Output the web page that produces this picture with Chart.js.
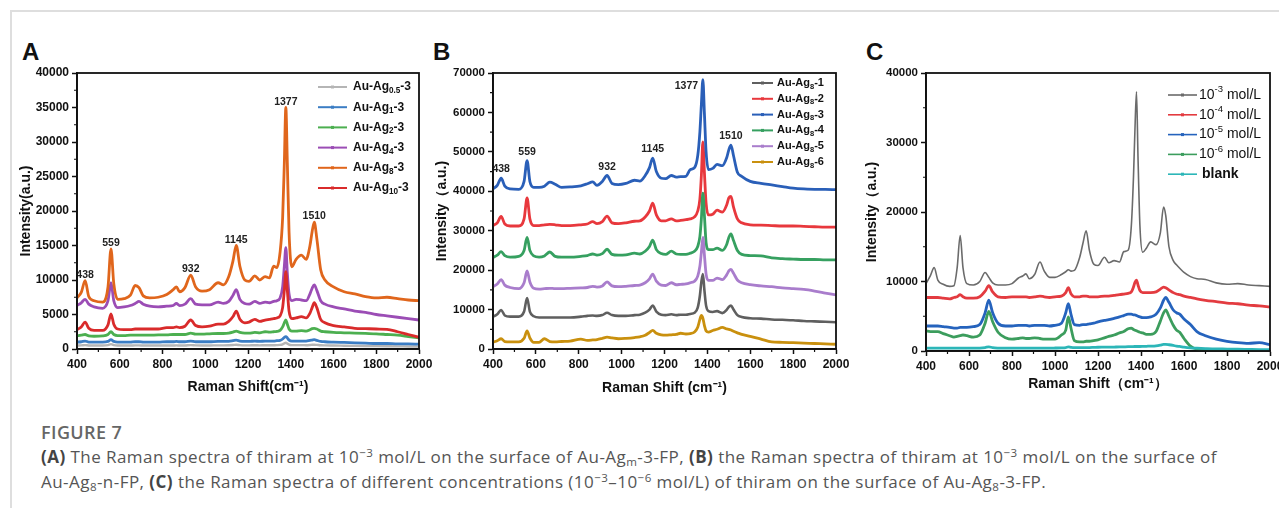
<!DOCTYPE html>
<html>
<head>
<meta charset="utf-8">
<script src="https://cdn.jsdelivr.net/npm/chart.js@4.4.1/dist/chart.umd.min.js"></script>
<style>
  html, body { margin: 0; padding: 0; background: #fff; width: 1279px; height: 508px; overflow: hidden; position: relative; }
  #frame { position: absolute; left: 10px; top: 10px; right: -5px; bottom: -5px; border-left: 2px solid #dedede; border-top: 2px solid #dedede; }
  canvas { position: absolute; top: 30px; }
  .tag { position: absolute; top: 40px; font: bold 24px/1 'Liberation Sans', Arial, sans-serif; color: #111; }
  #cap { position: absolute; left: 41px; top: 420px; font-family: 'Open Sans', sans-serif; font-size: 17px; letter-spacing: 0.45px; color: #555; white-space: nowrap; }
  #cap .fig { line-height: 24px; font-size: 18px; font-weight: 600; color: #666; letter-spacing: 0.4px; }
  #cap .txt { line-height: 25px; }
  #cap b { color: #444; }
  #cap sup, #cap sub { font-size: 0.68em; line-height: 0; position: relative; vertical-align: 0; }
  #cap sup { top: -0.55em; }
  #cap sub { top: 0.3em; }
</style>
</head>
<body>
<div id="frame"></div>
<div class="tag" style="left:22px">A</div>
<div class="tag" style="left:433px">B</div>
<div class="tag" style="left:866px">C</div>
<canvas id="chartA" width="440" height="375" style="left:0px"></canvas>
<canvas id="chartB" width="426" height="375" style="left:430px"></canvas>
<canvas id="chartC" width="435" height="375" style="left:860px"></canvas>
<div id="cap">
  <div class="fig">FIGURE 7</div>
  <div class="txt"><b>(A)</b> The Raman spectra of thiram at 10<sup>−3</sup> mol/L on the surface of Au-Ag<sub>m</sub>-3-FP, <b>(B)</b> the Raman spectra of thiram at 10<sup>−3</sup> mol/L on the surface of<br>Au-Ag<sub>8</sub>-n-FP, <b>(C)</b> the Raman spectra of different concentrations (10<sup>−3</sup>–10<sup>−6</sup> mol/L) of thiram on the surface of Au-Ag<sub>8</sub>-3-FP.</div>
</div>
<script>
// ---- Panel A: Au-Ag_m-3 substrates ----
const shiftA = [400, 420, 438, 455, 480, 520, 545, 559, 572, 590, 620, 650, 672, 690, 710,
  740, 780, 820, 850, 865, 880, 905, 932, 955, 985, 1020, 1060, 1085, 1110, 1130,
  1145, 1162, 1185, 1205, 1232, 1255, 1280, 1300, 1320, 1335, 1350, 1362, 1370, 1377, 1384,
  1392, 1405, 1425, 1450, 1472, 1490, 1500, 1510, 1522, 1540, 1560, 1600, 1650, 1700, 1750,
  1800, 1850, 1900, 1950, 2000];
const namesA = ['Au-Ag_{0.5}-3', 'Au-Ag_{1}-3', 'Au-Ag_{2}-3', 'Au-Ag_{4}-3', 'Au-Ag_{8}-3', 'Au-Ag_{10}-3'];
const agHalfA = [500, 520, 560, 510, 500, 500, 560, 700, 560, 500, 500, 500, 520, 520, 500,
  500, 500, 510, 510, 520, 510, 510, 560, 520, 510, 510, 530, 530, 540, 570,
  620, 560, 530, 530, 550, 530, 540, 540, 550, 560, 590, 680, 820, 900, 780,
  620, 560, 560, 560, 550, 580, 610, 620, 590, 540, 520, 500, 480, 460, 440,
  420, 400, 380, 370, 350];
const ag1A = [1000, 1050, 1150, 1000, 1000, 1000, 1100, 1350, 1100, 1000, 1000, 1000, 1050, 1050, 1000,
  1000, 1000, 1050, 1050, 1100, 1050, 1050, 1150, 1050, 1050, 1050, 1100, 1100, 1100, 1200,
  1300, 1150, 1100, 1100, 1150, 1100, 1150, 1150, 1150, 1200, 1250, 1450, 1700, 1800, 1600,
  1300, 1150, 1150, 1150, 1150, 1250, 1300, 1350, 1250, 1100, 1050, 1000, 950, 900, 850,
  800, 800, 750, 750, 700];
const ag2A = [1900, 2000, 2100, 1900, 1850, 1900, 2100, 2500, 2100, 1950, 1950, 2000, 2000, 2000, 2000,
  2000, 2050, 2050, 2100, 2100, 2100, 2100, 2300, 2150, 2150, 2200, 2250, 2250, 2300, 2450,
  2600, 2400, 2300, 2300, 2400, 2350, 2500, 2450, 2500, 2550, 2700, 3200, 3800, 4200, 3600,
  2900, 2600, 2600, 2650, 2600, 2800, 2950, 3000, 2900, 2600, 2500, 2400, 2350, 2300, 2250,
  2200, 2100, 2000, 1800, 1600];
const ag4A = [6300, 6700, 7200, 6500, 6100, 5900, 7000, 9600, 7000, 6000, 6100, 6300, 6600, 6900, 6500,
  6200, 6100, 6200, 6300, 6600, 6300, 6500, 7300, 6500, 6400, 6400, 6800, 6600, 6900, 7800,
  8600, 7200, 6600, 6500, 6900, 6600, 6800, 6700, 6900, 7000, 7400, 9000, 12000, 14700, 11000,
  8000, 7000, 7200, 7100, 7000, 8000, 8800, 9300, 8500, 7000, 6500, 6100, 5800, 5500, 5300,
  5000, 4800, 4600, 4400, 4200];
const ag8A = [7400, 8200, 9900, 7600, 7000, 6800, 9000, 14500, 9500, 7200, 7300, 7800, 9200, 8900, 7700,
  7400, 7500, 7900, 8600, 9000, 8300, 8900, 10700, 9000, 8400, 8600, 9600, 9300, 10500, 12800,
  15000, 12000, 10000, 9800, 10600, 10000, 10500, 10300, 12000, 11800, 14000, 19000, 27000, 35000, 27000,
  17000, 11900, 13000, 13600, 13000, 15000, 17000, 18400, 16000, 11500, 10000, 9000, 8300, 8000, 7600,
  7400, 7500, 7300, 7100, 7000];
const ag10A = [2800, 3200, 3900, 3000, 2700, 2700, 3500, 5100, 3600, 2900, 2800, 2800, 2900, 2900, 2900,
  2900, 2900, 3100, 3100, 3200, 3100, 3300, 4200, 3400, 3200, 3300, 3600, 3600, 4000, 4700,
  5500, 4300, 3800, 3900, 4300, 4000, 4200, 4300, 4400, 4500, 4800, 6000, 8500, 11200, 8500,
  5500, 4400, 4500, 4700, 4500, 5200, 6000, 6700, 6000, 4300, 3800, 3400, 3200, 3000, 2950,
  2900, 2850, 2500, 2100, 1700];
const peaksA = [438, 559, 932, 1145, 1377, 1510];

// ---- Panel B: Au-Ag8-n substrates ----
const shiftB = [400, 420, 438, 455, 480, 520, 545, 559, 572, 590, 615, 640, 665, 690, 720,
  760, 810, 840, 865, 885, 910, 932, 955, 985, 1020, 1060, 1085, 1110, 1130, 1145,
  1162, 1185, 1205, 1232, 1255, 1275, 1300, 1320, 1340, 1355, 1365, 1372, 1379, 1386, 1394,
  1405, 1425, 1445, 1470, 1490, 1500, 1510, 1522, 1540, 1560, 1600, 1650, 1700, 1750, 1800,
  1850, 1900, 1950, 2000];
const namesB = ['Au-Ag_{8}-1', 'Au-Ag_{8}-2', 'Au-Ag_{8}-3', 'Au-Ag_{8}-4', 'Au-Ag_{8}-5', 'Au-Ag_{8}-6'];
const n1B = [8200, 8800, 9900, 8500, 8200, 8200, 9500, 12900, 9500, 8300, 8000, 8000, 8000, 8000, 8000,
  8000, 8200, 8400, 8500, 8400, 8600, 9200, 8600, 8400, 8400, 8600, 8700, 9200, 10000, 11000,
  9500, 8700, 8600, 8800, 8600, 8700, 8700, 8900, 9200, 10500, 13500, 17000, 19000, 15000, 11000,
  9600, 9400, 9600, 9100, 9900, 10700, 11000, 10000, 8600, 8100, 7800, 7700, 7500, 7400, 7300,
  7100, 7000, 6900, 6800];
const n2B = [31300, 32000, 33600, 31700, 31200, 31200, 33000, 38300, 33000, 31300, 31300, 31500, 31600, 31500, 31300,
  31300, 31500, 31700, 32300, 31800, 32300, 33700, 32000, 31800, 32000, 32400, 32500, 33500, 35000, 37000,
  34000, 32500, 32500, 33000, 32500, 32600, 32800, 33000, 33500, 35000, 38000, 44000, 52500, 45000, 37000,
  34000, 34200, 35200, 34700, 36500, 38300, 38700, 36000, 33000, 32000, 31500, 31400, 31300, 31200, 31200,
  31100, 31000, 30900, 30900];
const n3B = [40600, 41500, 43300, 41300, 40600, 40500, 42500, 47800, 42500, 41000, 41000, 41300, 42300, 41800, 41000,
  41100, 41400, 41900, 42400, 41500, 42500, 44000, 42000, 41700, 42000, 42800, 42600, 44000, 46000, 48400,
  45000, 43300, 43200, 44000, 43600, 43700, 43800, 45500, 46000, 49000, 55000, 62000, 68300, 60000, 50000,
  45500, 45800, 46800, 46500, 48500, 50500, 51700, 49000, 44800, 43800, 42500, 42000, 41600, 41200, 40800,
  40600, 40500, 40500, 40400];
const n4B = [23200, 23800, 24700, 23700, 23300, 23500, 25000, 28300, 25000, 23600, 23300, 23600, 24600, 23500, 23300,
  23300, 23500, 23700, 24100, 23800, 24200, 25300, 24000, 23800, 23900, 24300, 24100, 24800, 26000, 27600,
  25200, 24200, 24000, 24800, 24100, 24000, 24000, 24300, 24800, 26000, 28500, 33000, 39500, 34000, 27000,
  25200, 25200, 25600, 25000, 26500, 28300, 29200, 27500, 25000, 24000, 23700, 23600, 23100, 22900, 22800,
  22700, 22700, 22600, 22600];
const n5B = [15800, 16500, 17600, 16200, 15600, 15300, 16800, 19800, 17000, 15400, 15200, 15300, 15400, 15300, 15300,
  15400, 15500, 15600, 15900, 15700, 16000, 17000, 16000, 15800, 15900, 16100, 16200, 16800, 17800, 19000,
  17200, 16200, 16100, 16800, 16300, 16400, 16500, 16800, 17200, 18500, 21000, 24500, 28300, 24000, 19000,
  17400, 17400, 18000, 17600, 18800, 19800, 20200, 19200, 17500, 16800, 16300, 16000, 15800, 15500, 15300,
  15100, 14700, 14200, 13700];
const n6B = [1700, 2100, 2600, 1900, 1800, 1800, 2700, 4600, 2800, 1700, 1700, 2600, 1900, 1800, 1900,
  2000, 2500, 2200, 2300, 2400, 2700, 3000, 2800, 2600, 2700, 2900, 3100, 3500, 4200, 4700,
  4000, 3600, 3500, 3600, 3700, 4000, 3800, 3900, 4300, 5500, 7500, 8500, 7800, 6000, 4600,
  4300, 4700, 5000, 5500, 5100, 5000, 4800, 4500, 4100, 3700, 3200, 2500, 1800, 1700, 1600,
  1500, 1400, 1300, 1200];
const peaksB = [438, 559, 932, 1145, 1377, 1510];

// ---- Panel C: thiram concentrations ----
const shiftC = [400, 420, 438, 455, 480, 510, 530, 545, 559, 572, 590, 620, 650, 675, 692,
  710, 735, 770, 800, 830, 850, 865, 880, 905, 930, 950, 975, 1000, 1030, 1050,
  1062, 1075, 1090, 1115, 1130, 1145, 1160, 1180, 1200, 1230, 1250, 1275, 1300, 1320, 1340,
  1355, 1365, 1372, 1379, 1386, 1395, 1408, 1425, 1445, 1470, 1490, 1505, 1515, 1530, 1550,
  1565, 1580, 1600, 1630, 1660, 1700, 1750, 1800, 1850, 1900, 1950, 2000];
const namesC = ['10^{-3} mol/L', '10^{-4} mol/L', '10^{-5} mol/L', '10^{-6} mol/L', 'blank'];
const conc3C = [9700, 10800, 12000, 10200, 9600, 9300, 9400, 12000, 16600, 12000, 9700, 9500, 10000, 11300, 10600,
  9800, 9500, 9500, 9700, 10500, 10800, 11100, 10400, 11000, 12800, 11500, 10600, 10600, 11000, 11400,
  11700, 11500, 11600, 13500, 15500, 17300, 14500, 12500, 12300, 13500, 12700, 13000, 12800, 14300, 14500,
  18000, 25000, 32000, 37300, 28000, 18000, 14200, 14800, 15700, 15300, 17000, 20700, 19500, 15000, 13000,
  12400, 11900, 11300, 10700, 10400, 10300, 9800, 9600, 9700, 9500, 9400, 9300];
const conc4C = [7700, 7700, 7700, 7700, 7600, 7500, 7700, 7800, 8100, 7800, 7600, 7600, 7800, 8600, 9400,
  8500, 7800, 7700, 7800, 7800, 7800, 7800, 7700, 7800, 7900, 7800, 7700, 7800, 7900, 8400,
  9100, 8200, 7800, 7800, 7900, 7900, 7800, 7800, 7800, 7900, 7900, 8000, 8100, 8200, 8300,
  8500, 9200, 9900, 10200, 9500, 8700, 8400, 8400, 8400, 8500, 8900, 9200, 9100, 8800, 8400,
  8200, 8100, 7900, 7700, 7500, 7300, 7100, 6900, 6800, 6600, 6500, 6300];
const conc5C = [3600, 3600, 3600, 3600, 3500, 3400, 3300, 3300, 3400, 3400, 3400, 3500, 3800, 5500, 7300,
  5500, 4000, 3600, 3600, 3700, 3700, 3700, 3600, 3700, 3700, 3700, 3600, 3700, 4000, 5500,
  6800, 5200, 3800, 3700, 3800, 3800, 3900, 4000, 4200, 4400, 4500, 4700, 4900, 5100, 5300,
  5300, 5200, 5200, 5100, 5000, 4900, 4800, 4800, 4900, 5300, 6200, 7300, 7700, 7000, 5900,
  5500, 5300, 4600, 3800, 2800, 2200, 1700, 1400, 1200, 1100, 1200, 900];
const conc6C = [2900, 2800, 2800, 2800, 2500, 2200, 2000, 2100, 2200, 2300, 2200, 2000, 2300, 4000, 5700,
  4200, 2700, 1900, 1700, 1800, 1900, 1800, 1800, 1900, 1800, 1700, 1700, 1700, 2300, 3000,
  4900, 3200, 1500, 1300, 1300, 1400, 1400, 1500, 1600, 1900, 2100, 2300, 2600, 2800, 3200,
  3300, 3100, 3000, 2900, 2800, 2700, 2600, 2400, 2400, 2800, 4300, 5500, 5900, 5000, 3700,
  3000, 2700, 1800, 700, 250, 150, 100, 100, 50, 50, 50, 0];
const blankC = [400, 400, 400, 400, 400, 400, 400, 400, 420, 400, 400, 400, 420, 500, 600,
  480, 420, 400, 400, 400, 400, 400, 400, 420, 420, 420, 420, 430, 450, 500,
  600, 520, 480, 480, 500, 500, 500, 520, 540, 550, 560, 570, 580, 600, 620,
  630, 640, 650, 650, 650, 650, 660, 680, 700, 750, 850, 950, 950, 900, 800,
  700, 650, 550, 450, 400, 350, 300, 280, 250, 230, 210, 200];

const FONT = "'Liberation Sans', Arial, Helvetica, sans-serif";
Chart.defaults.font.family = FONT;
Chart.defaults.color = '#111';

// split "Au-Ag_{8}-3" / "10^{-3} mol/L" into plain, sub and sup pieces
function parseRich(s) {
  return s.split(/(_\{[^}]*\}|\^\{[^}]*\})/).filter(Boolean).map(p => {
    if (p.startsWith('_{')) return [p.slice(2, -1), 'sub'];
    if (p.startsWith('^{')) return [p.slice(2, -1), 'sup'];
    return [p, ''];
  });
}

function drawRich(ctx, text, x, y, size, weight) {
  let cx = x;
  ctx.textAlign = 'left';
  ctx.textBaseline = 'middle';
  parseRich(text).forEach(([t, kind]) => {
    const s = kind ? size * 0.68 : size;
    ctx.font = `${weight} ${s}px ${FONT}`;
    const dy = kind === 'sub' ? size * 0.32 : kind === 'sup' ? -size * 0.38 : 0;
    ctx.fillText(t, cx, y + dy);
    cx += ctx.measureText(t).width;
  });
}

const frameBox = {
  id: 'frameBox',
  afterDatasetsDraw(chart) {
    const { ctx, chartArea: a } = chart;
    ctx.save();
    ctx.strokeStyle = '#111';
    ctx.lineWidth = 1.8;
    ctx.strokeRect(a.left, a.top, a.right - a.left, a.bottom - a.top);
    ctx.restore();
  }
};

const minorTicks = {
  id: 'minorTicks',
  afterDraw(chart, args, o) {
    const { ctx, scales: { x, y } } = chart;
    ctx.save();
    ctx.strokeStyle = '#111';
    ctx.lineWidth = 1.2;
    ctx.beginPath();
    for (let v = x.min + o.x; v < x.max; v += 2 * o.x) {
      const px = x.getPixelForValue(v);
      ctx.moveTo(px, x.top); ctx.lineTo(px, x.top + 3);
    }
    for (let v = o.y; v < y.max; v += 2 * o.y) {
      const py = y.getPixelForValue(v);
      ctx.moveTo(y.right, py); ctx.lineTo(y.right - 3, py);
    }
    ctx.stroke();
    ctx.restore();
  }
};

const peakLabels = {
  id: 'peakLabels',
  afterDatasetsDraw(chart, args, o) {
    if (!o.list) return;
    const { ctx, scales: { x, y } } = chart;
    const pts = chart.data.datasets[o.series].data;
    ctx.save();
    ctx.font = `bold ${o.size}px ${FONT}`;
    ctx.fillStyle = '#222';
    ctx.textAlign = 'center';
    ctx.textBaseline = 'alphabetic';
    o.list.forEach(v => {
      let best = pts[0];
      pts.forEach(p => { if (Math.abs(p.x - v) < Math.abs(best.x - v)) best = p; });
      const [dx, dy] = (o.nudge && o.nudge[v]) || [0, 0];
      ctx.fillText(String(v), x.getPixelForValue(v) + dx, y.getPixelForValue(best.y) - o.gap + dy);
    });
    ctx.restore();
  }
};

const richLegend = {
  id: 'richLegend',
  afterDraw(chart, args, o) {
    const { ctx, chartArea: a } = chart;
    ctx.save();
    chart.data.datasets.forEach((ds, i) => {
      const y = a.top + o.top + i * o.dy;
      const x0 = a.left + o.left;
      ctx.strokeStyle = ds.borderColor;
      ctx.lineWidth = o.lw;
      ctx.beginPath(); ctx.moveTo(x0, y); ctx.lineTo(x0 + o.len, y); ctx.stroke();
      ctx.fillStyle = ds.borderColor;
      ctx.fillRect(x0 + o.len / 2 - 1.5, y - 1.5, 3, 3);
      ctx.fillStyle = '#111';
      const bold = o.boldLast && i === chart.data.datasets.length - 1;
      drawRich(ctx, ds.label, x0 + o.len + o.gap + (bold ? 3 : 0), y, o.size, bold ? 'bold' : o.weight);
    });
    ctx.restore();
  }
};

function makePanel(id, cfg) {
  const n = cfg.series.length;
  const axisFont = { size: 14, weight: 'bold' };
  return new Chart(document.getElementById(id), {
    type: 'line',
    data: {
      datasets: cfg.series.map((ys, i) => ({
        label: cfg.names[i],
        data: cfg.shift.map((x, j) => ({ x, y: ys[j] })),
        borderColor: cfg.colors[i],
        borderWidth: cfg.widths[i],
        pointRadius: 0,
        cubicInterpolationMode: 'monotone',
        order: n - i
      }))
    },
    options: {
      responsive: false,
      animation: false,
      devicePixelRatio: 1,
      layout: { padding: { left: 0, top: 43, right: cfg.padRight, bottom: 0 } },
      scales: {
        x: {
          type: 'linear', min: 400, max: 2000,
          afterFit(s) { s.height = cfg.xh; s.paddingLeft = 0; s.paddingRight = 0; },
          ticks: { stepSize: 200, autoSkip: false, maxRotation: 0, padding: 3, color: '#111',
            font: { size: 12, weight: 'bold' }, callback: v => String(v) },
          grid: { drawOnChartArea: false, tickLength: 5, tickColor: '#111', tickWidth: 1.5 },
          border: { color: '#111', width: 1.8 },
          title: { display: true, text: cfg.xTitle, color: '#111', font: axisFont,
            padding: { top: 0, bottom: cfg.xTitlePad } }
        },
        y: {
          min: 0, max: cfg.yMax,
          afterFit(s) { s.width = cfg.yw; s.paddingTop = 0; s.paddingBottom = 0; },
          ticks: { stepSize: cfg.yStep, padding: 3, color: '#111',
            font: { size: cfg.yFont, weight: 'bold' }, callback: v => String(v) },
          grid: { drawOnChartArea: false, tickLength: 5, tickColor: '#111', tickWidth: 1.5 },
          border: { color: '#111', width: 1.8 },
          title: { display: true, text: cfg.yTitle, color: '#111', font: axisFont,
            padding: { top: cfg.yTitlePad, bottom: 0 } }
        }
      },
      plugins: {
        legend: { display: false },
        tooltip: { enabled: false },
        minorTicks: { x: 100, y: cfg.yStep / 2 },
        peakLabels: cfg.peaks,
        richLegend: cfg.legend
      }
    },
    plugins: [minorTicks, peakLabels, frameBox, richLegend]
  });
}

makePanel('chartA', {
  shift: shiftA,
  names: namesA,
  series: [agHalfA, ag1A, ag2A, ag4A, ag8A, ag10A],
  colors: ['#b5b5b5', '#3b7dc4', '#4caf50', '#9b4db5', '#e0661c', '#d92b2b'],
  widths: [2.4, 2.8, 2.8, 2.8, 2.8, 2.8],
  padRight: 21, yw: 77, xh: 56,
  yMax: 40000, yStep: 5000, yFont: 12,
  xTitle: 'Raman Shift(cm⁻¹)', xTitlePad: 9.6,
  yTitle: 'Intensity(a.u.)', yTitlePad: 17.6,
  peaks: { series: 4, list: peaksA, gap: 3, size: 10.5 },
  legend: { left: 241, top: 14, dy: 20.2, len: 29, gap: 6, lw: 2, size: 12, weight: 'bold' }
});

makePanel('chartB', {
  shift: shiftB,
  names: namesB,
  series: [n1B, n2B, n3B, n4B, n5B, n6B],
  colors: ['#5f5f5f', '#e8383d', '#2a5fb8', '#36a060', '#a97dcc', '#c9900e'],
  widths: [2.6, 2.8, 2.8, 2.8, 2.8, 2.8],
  padRight: 20, yw: 63, xh: 56,
  yMax: 70000, yStep: 10000, yFont: 11.5,
  xTitle: 'Raman Shift (cm⁻¹)', xTitlePad: 8.6,
  yTitle: 'Intensity（a.u.)', yTitlePad: 3.6,
  peaks: { series: 2, list: peaksB, gap: 6, size: 10.5, nudge: { 1377: [-16, 15] } },
  legend: { left: 259, top: 10, dy: 15.8, len: 21, gap: 4, lw: 2, size: 11, weight: 'bold' }
});

makePanel('chartC', {
  shift: shiftC,
  names: namesC,
  series: [conc3C, conc4C, conc5C, conc6C, blankC],
  colors: ['#6b6b6b', '#e33b40', '#2563bd', '#3c9d5d', '#2cb6b8'],
  widths: [1.6, 2.8, 2.8, 2.8, 2.8],
  padRight: 25, yw: 66, xh: 54,
  yMax: 40000, yStep: 10000, yFont: 11.5,
  xTitle: 'Raman Shift（cm⁻¹）', xTitlePad: 12.6,
  yTitle: 'Intensity（a.u.)', yTitlePad: 3.6,
  peaks: {},
  legend: { left: 242, top: 22, dy: 19.8, len: 29, gap: 2, lw: 1.6, size: 14, weight: 'normal', boldLast: true }
});
</script>
</body>
</html>
